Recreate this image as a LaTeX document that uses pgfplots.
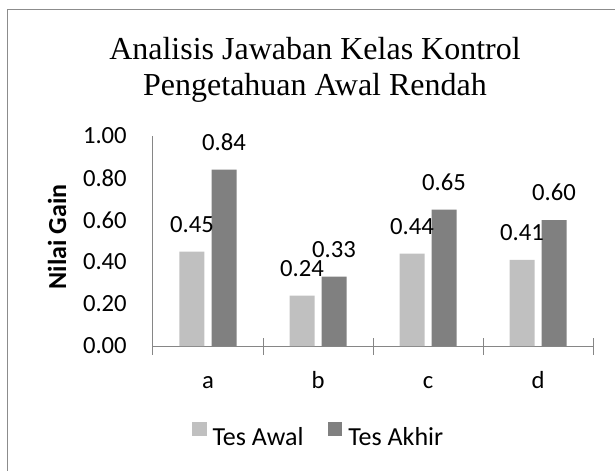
\documentclass[border=0pt]{standalone}
\usepackage{fontspec}
\setmainfont{Liberation Serif}
\newfontfamily\calib{Carlito}
\usepackage{pgfplots}
\pgfplotsset{compat=1.18}
\definecolor{lightbar}{RGB}{192,192,192}
\definecolor{darkbar}{RGB}{128,128,128}
\definecolor{axgray}{RGB}{134,134,134}
\definecolor{framegray}{RGB}{140,140,140}
\begin{document}
\begin{tikzpicture}
\path[use as bounding box] (0,0) rectangle (461.25pt,-353.25pt);
\draw[framegray, line width=0.9pt] (5.5pt,-353.25pt) -- (5.5pt,-7.2pt) -- (461.25pt,-7.2pt);
\node[font=\fontsize{24}{27}\selectfont, align=center] at (236.25pt,-52.2pt)
  {Analisis Jawaban Kelas Kontrol\\Pengetahuan Awal Rendah};
\begin{axis}[
  at={(114.75pt,-259.5pt)}, anchor=south west,
  scale only axis, width=330pt, height=157.5pt,
  xmin=-0.5, xmax=3.5, ymin=0, ymax=1,
  axis x line=bottom, axis y line=left,
  axis line style={axgray, line width=0.75pt, -},
  ybar=5.25pt, bar width=18.75pt,
  xtick={0,1,2,3}, xticklabels={a,b,c,d},
  minor xtick={-0.5,0.5,1.5,2.5,3.5},
  ytick={0,0.2,0.4,0.6,0.8,1},
  major tick length=0pt, minor tick length=12.75pt, tick align=center,
  tick style={axgray, line width=0.75pt},
  tick label style={font=\calib\fontsize{18.5}{22}\selectfont},
  yticklabel style={anchor=east, inner sep=0pt, xshift=-19.5pt,
    /pgf/number format/.cd, fixed, fixed zerofill, precision=2, assume math mode=true},
  xticklabel style={anchor=base, inner sep=0pt, yshift=-31.5pt},
  ylabel={Nilai Gain},
  ylabel style={font=\calib\bfseries\fontsize{19.5}{24}\selectfont,
    at={(axis description cs:-0.218,0.519)}, anchor=center},
  nodes near coords={\calib\fontsize{18.5}{22}\selectfont\pgfmathprintnumber[fixed,fixed zerofill,precision=2,assume math mode=true]{\pgfplotspointmeta}},
  nodes near coords style={text=black, inner sep=0pt, anchor=south, yshift=14pt},
  legend style={at={(axis description cs:0.377,-0.429)}, anchor=center, draw=none,
    font=\calib\fontsize{19.5}{24}\selectfont,
    /tikz/every odd column/.append style={column sep=2.5pt},
    /tikz/every even column/.append style={column sep=16pt}},
  legend columns=2,
]
\addplot[fill=lightbar, draw=none,
  legend image code/.code={\fill[lightbar] (0pt,1.5pt) rectangle (11pt,12pt);}]
  coordinates {(0,0.45) (1,0.24) (2,0.44) (3,0.41)};
\addplot[fill=darkbar, draw=none,
  legend image code/.code={\fill[darkbar] (0pt,1.5pt) rectangle (11pt,12pt);}]
  coordinates {(0,0.84) (1,0.33) (2,0.65) (3,0.60)};
\legend{Tes Awal, Tes Akhir}
\end{axis}
\end{tikzpicture}
\end{document}
